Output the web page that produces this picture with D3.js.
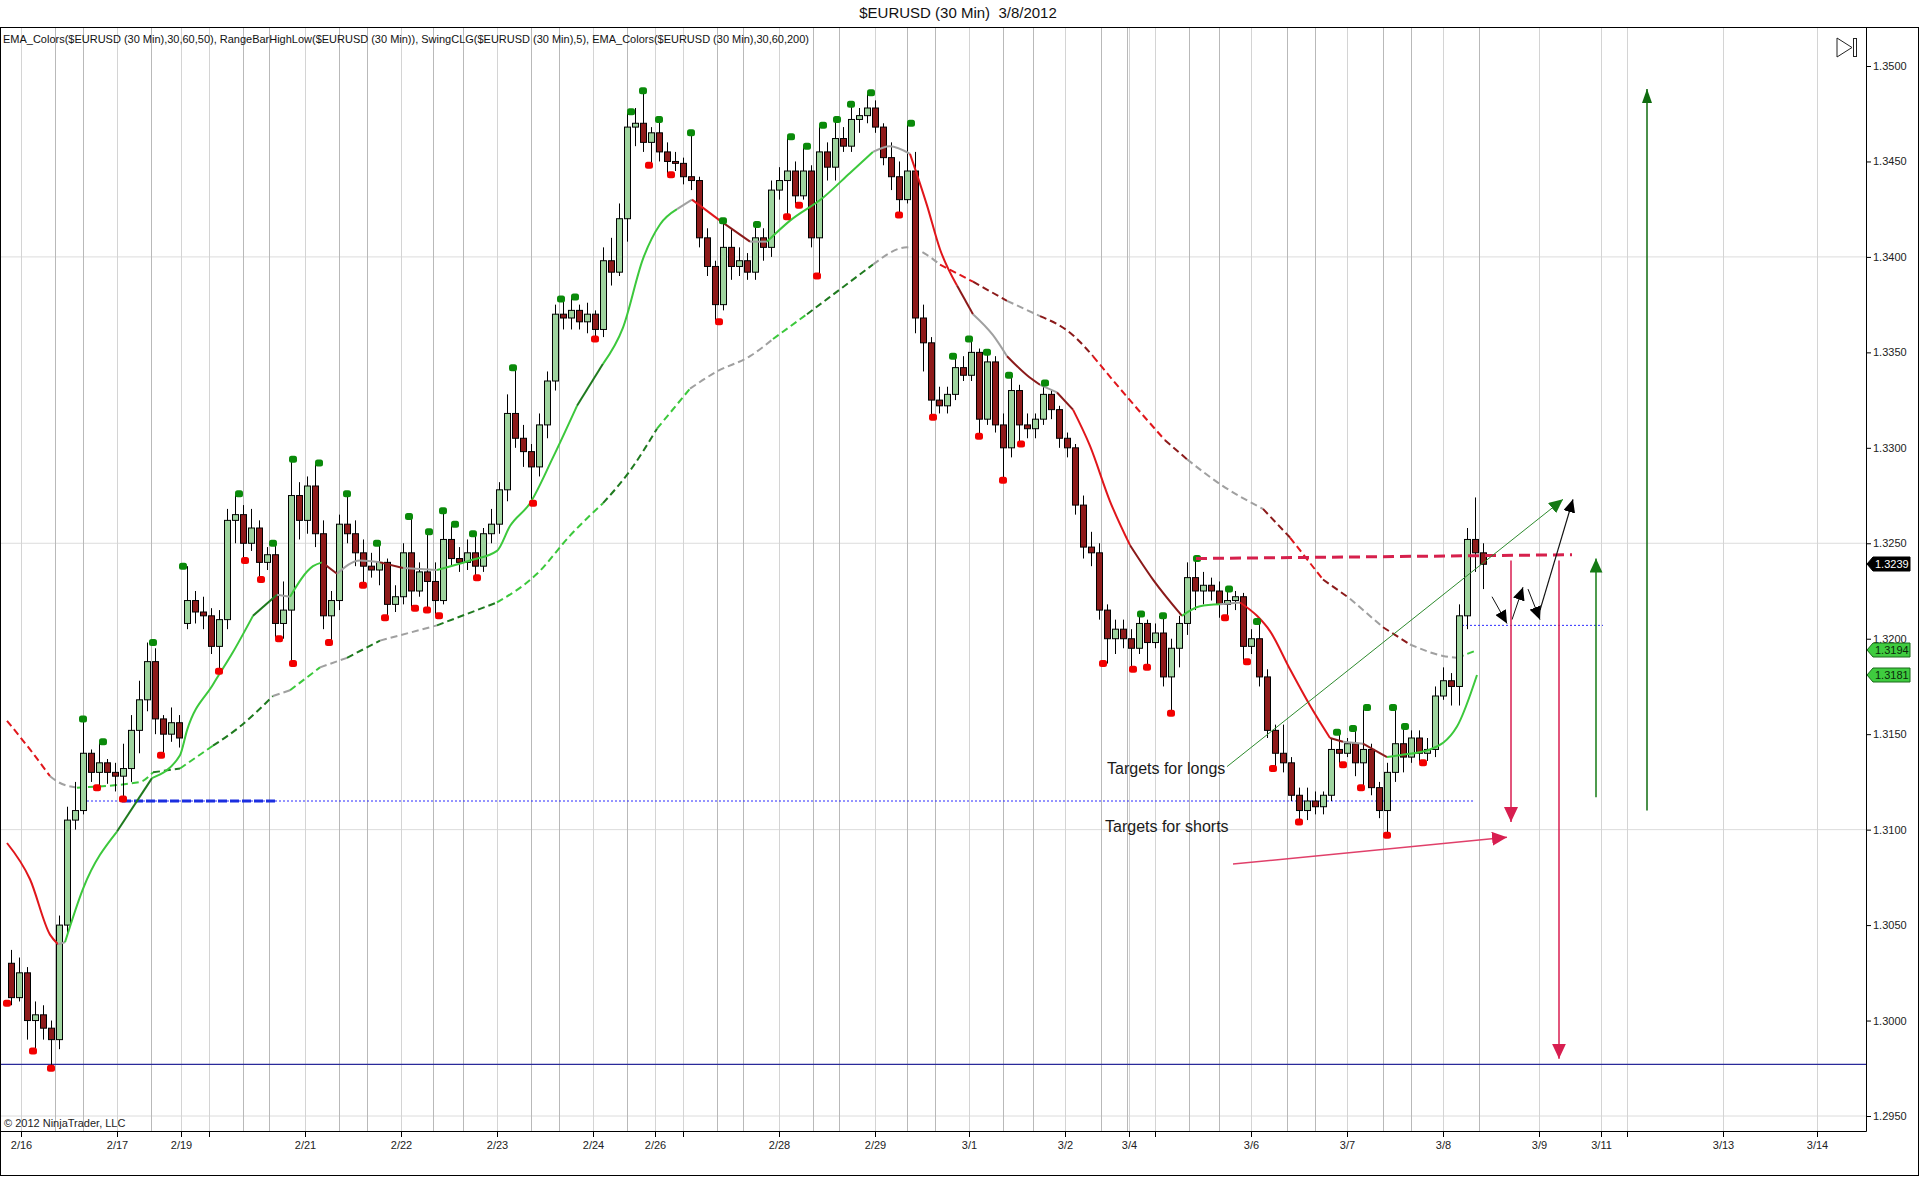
<!DOCTYPE html>
<html lang="en">
<head>
<meta charset="UTF-8">
<title>$EURUSD (30 Min) 3/8/2012</title>
<style>
  body { margin: 0; background: #fff; }
  svg { display: block; font-family: "Liberation Sans", Arial, sans-serif; }
</style>
</head>
<body>
<div class="container"></div>

<script src="https://d3js.org/d3.v7.min.js"></script>
<script>
  // ---- data (bar index = one 30 min bar, candles grouped by 4 bars) ----
  const candleOpen = [
    1.3030,1.3012,1.3025,1.3000,1.3003,1.2996,1.2990,1.3050,1.3105,1.3110,
    1.3140,1.3130,1.3135,1.3130,1.3128,1.3132,1.3152,1.3168,1.3188,1.3158,
    1.3150,1.3156,1.3208,1.3220,1.3214,1.3212,1.3196,1.3210,1.3262,1.3265,
    1.3250,1.3258,1.3240,1.3244,1.3208,1.3215,1.3275,1.3262,1.3280,1.3255,
    1.3212,1.3220,1.3260,1.3255,1.3245,1.3238,1.3236,1.3240,1.3218,1.3222,
    1.3245,1.3225,1.3235,1.3230,1.3220,1.3252,1.3242,1.3240,1.3245,1.3238,
    1.3255,1.3260,1.3278,1.3318,1.3305,1.3298,1.3290,1.3312,1.3335,1.3370,
    1.3368,1.3372,1.3366,1.3370,1.3362,1.3398,1.3392,1.3420,1.3468,1.3470,
    1.3460,1.3465,1.3455,1.3450,1.3449,1.3442,1.3440,1.3410,1.3395,1.3375,
    1.3405,1.3395,1.3398,1.3392,1.3410,1.3405,1.3435,1.3440,1.3445,1.3432,
    1.3445,1.3410,1.3455,1.3447,1.3462,1.3458,1.3472,1.3474,1.3478,1.3468,
    1.3452,1.3442,1.3430,1.3445,1.3368,1.3355,1.3325,1.3322,1.3328,1.3342,
    1.3338,1.3350,1.3315,1.3345,1.3312,1.3300,1.3330,1.3312,1.3310,1.3315,
    1.3328,1.3320,1.3305,1.3300,1.3270,1.3248,1.3245,1.3215,1.3200,1.3205,
    1.3200,1.3195,1.3208,1.3198,1.3203,1.3180,1.3195,1.3208,1.3232,1.3225,
    1.3228,1.3225,1.3218,1.3220,1.3222,1.3196,1.3200,1.3180,1.3152,1.3140,
    1.3135,1.3118,1.3110,1.3115,1.3112,1.3118,1.3142,1.3140,1.3145,1.3135,
    1.3142,1.3122,1.3110,1.3130,1.3145,1.3138,1.3148,1.3140,1.3142,1.3170,
    1.3178,1.3175,1.3212,1.3252,1.3245
  ];
  const candleHigh = [
    1.3037,1.3033,1.3028,1.3010,1.3008,1.3000,1.3055,1.3112,1.3125,1.3158,
    1.3142,1.3146,1.3137,1.3135,1.3145,1.3160,1.3178,1.3198,1.3195,1.3160,
    1.3164,1.3160,1.3238,1.3225,1.3222,1.3216,1.3215,1.3268,1.3276,1.3270,
    1.3268,1.3262,1.3248,1.3250,1.3230,1.3294,1.3282,1.3285,1.3292,1.3262,
    1.3225,1.3265,1.3276,1.3262,1.3252,1.3245,1.3250,1.3242,1.3228,1.3250,
    1.3264,1.3240,1.3256,1.3240,1.3267,1.3260,1.3248,1.3252,1.3255,1.3258,
    1.3268,1.3282,1.3328,1.3342,1.3312,1.3302,1.3318,1.3340,1.3375,1.3378,
    1.3379,1.3375,1.3376,1.3372,1.3405,1.3410,1.3428,1.3476,1.3478,1.3487,
    1.3468,1.3472,1.3460,1.3455,1.3452,1.3465,1.3442,1.3415,1.3398,1.3419,
    1.3415,1.3405,1.3402,1.3417,1.3415,1.3440,1.3447,1.3463,1.3450,1.3458,
    1.3448,1.3469,1.3460,1.3472,1.3468,1.3480,1.3478,1.3486,1.3482,1.3470,
    1.3460,1.3450,1.3470,1.3455,1.3375,1.3358,1.3332,1.3332,1.3348,1.3348,
    1.3357,1.3352,1.3350,1.3348,1.3318,1.3338,1.3333,1.3318,1.3318,1.3334,
    1.3330,1.3322,1.3308,1.3302,1.3275,1.3256,1.3250,1.3218,1.3210,1.3210,
    1.3205,1.3213,1.3210,1.3208,1.3212,1.3200,1.3212,1.3240,1.3242,1.3235,
    1.3232,1.3230,1.3226,1.3225,1.3224,1.3205,1.3209,1.3184,1.3155,1.3155,
    1.3138,1.3122,1.3122,1.3120,1.3120,1.3148,1.3151,1.3148,1.3153,1.3164,
    1.3145,1.3125,1.3135,1.3164,1.3154,1.3152,1.3152,1.3148,1.3175,1.3185,
    1.3182,1.3218,1.3258,1.3274,1.3250
  ];
  const candleLow = [
    1.3008,1.3010,1.2990,1.2984,1.2990,1.2975,1.2985,1.3045,1.3100,1.3108,
    1.3125,1.3122,1.3124,1.3120,1.3116,1.3125,1.3140,1.3162,1.3150,1.3139,
    1.3146,1.3143,1.3205,1.3208,1.3205,1.3192,1.3183,1.3205,1.3250,1.3241,
    1.3246,1.3231,1.3236,1.3200,1.3200,1.3187,1.3252,1.3255,1.3248,1.3205,
    1.3198,1.3215,1.3250,1.3238,1.3228,1.3232,1.3228,1.3211,1.3214,1.3218,
    1.3216,1.3222,1.3215,1.3212,1.3218,1.3238,1.3235,1.3236,1.3232,1.3235,
    1.3250,1.3255,1.3272,1.3300,1.3290,1.3271,1.3285,1.3305,1.3330,1.3362,
    1.3362,1.3362,1.3360,1.3357,1.3358,1.3385,1.3390,1.3408,1.3458,1.3455,
    1.3448,1.3450,1.3443,1.3445,1.3438,1.3435,1.3405,1.3390,1.3366,1.3372,
    1.3388,1.3390,1.3388,1.3388,1.3398,1.3400,1.3430,1.3421,1.3427,1.3430,
    1.3405,1.3390,1.3440,1.3440,1.3455,1.3455,1.3465,1.3470,1.3465,1.3448,
    1.3435,1.3422,1.3428,1.3360,1.3340,1.3316,1.3318,1.3318,1.3325,1.3335,
    1.3335,1.3306,1.3312,1.3308,1.3283,1.3295,1.3302,1.3305,1.3305,1.3312,
    1.3315,1.3300,1.3295,1.3265,1.3242,1.3238,1.3210,1.3187,1.3192,1.3195,
    1.3184,1.3192,1.3185,1.3195,1.3175,1.3161,1.3185,1.3202,1.3215,1.3218,
    1.3220,1.3211,1.3212,1.3215,1.3188,1.3192,1.3175,1.3148,1.3132,1.3130,
    1.3115,1.3104,1.3105,1.3108,1.3108,1.3115,1.3134,1.3138,1.3128,1.3122,
    1.3118,1.3106,1.3097,1.3125,1.3130,1.3135,1.3135,1.3136,1.3138,1.3168,
    1.3165,1.3165,1.3205,1.3235,1.3226
  ];
  const candleClose = [
    1.3012,1.3025,1.3000,1.3003,1.2996,1.2990,1.3050,1.3105,1.3110,1.3140,
    1.3130,1.3135,1.3130,1.3128,1.3132,1.3152,1.3168,1.3188,1.3158,1.3150,
    1.3156,1.3148,1.3220,1.3214,1.3212,1.3196,1.3210,1.3262,1.3265,1.3250,
    1.3258,1.3240,1.3244,1.3208,1.3215,1.3275,1.3262,1.3280,1.3255,1.3212,
    1.3220,1.3260,1.3255,1.3245,1.3238,1.3236,1.3240,1.3218,1.3222,1.3245,
    1.3225,1.3235,1.3230,1.3220,1.3252,1.3242,1.3240,1.3245,1.3238,1.3255,
    1.3260,1.3278,1.3318,1.3305,1.3298,1.3290,1.3312,1.3335,1.3370,1.3368,
    1.3372,1.3366,1.3370,1.3362,1.3398,1.3392,1.3420,1.3468,1.3470,1.3460,
    1.3465,1.3455,1.3450,1.3449,1.3442,1.3440,1.3410,1.3395,1.3375,1.3405,
    1.3395,1.3398,1.3392,1.3410,1.3405,1.3435,1.3440,1.3445,1.3432,1.3445,
    1.3410,1.3455,1.3447,1.3462,1.3458,1.3472,1.3474,1.3478,1.3468,1.3452,
    1.3442,1.3430,1.3445,1.3368,1.3355,1.3325,1.3322,1.3328,1.3342,1.3338,
    1.3350,1.3315,1.3345,1.3312,1.3300,1.3330,1.3312,1.3310,1.3315,1.3328,
    1.3320,1.3305,1.3300,1.3270,1.3248,1.3245,1.3215,1.3200,1.3205,1.3200,
    1.3195,1.3208,1.3198,1.3203,1.3180,1.3195,1.3208,1.3232,1.3225,1.3228,
    1.3225,1.3218,1.3220,1.3222,1.3196,1.3200,1.3180,1.3152,1.3140,1.3135,
    1.3118,1.3110,1.3115,1.3112,1.3118,1.3142,1.3140,1.3145,1.3135,1.3142,
    1.3122,1.3110,1.3130,1.3145,1.3138,1.3148,1.3140,1.3142,1.3170,1.3178,
    1.3175,1.3212,1.3252,1.3245,1.3239
  ];
  const BARS_PER_CANDLE = 4;

  // SwingCLG markers
  const swingHighBar = [38,48,73,88,116,133,143,156,170,185,201,211,218,224,233,253,277,284,312,318,
    326,342,358,375,392,400,408,415,422,432,452,473,481,490,501,519,567,578,595,611,625,665,673,680,693,699];
  const swingHighPrice = [1.3158,1.3146,1.3198,1.3238,1.3276,1.3250,1.3294,1.3292,1.3276,1.3250,
    1.3264,1.3256,1.3267,1.3260,1.3255,1.3342,1.3378,1.3379,1.3476,1.3487,1.3472,1.3465,1.3419,1.3417,
    1.3463,1.3458,1.3469,1.3472,1.3480,1.3486,1.3470,1.3348,1.3357,1.3350,1.3338,1.3334,1.3213,1.3212,
    1.3242,1.3226,1.3209,1.3151,1.3153,1.3164,1.3164,1.3154];
  const swingLowBar = [0,13,22,45,58,77,106,119,127,136,143,161,178,189,204,210,216,235,263,294,
    321,332,356,390,396,405,446,463,486,498,507,548,563,570,582,609,620,633,646,668,677,690,708];
  const swingLowPrice = [1.3009,1.2984,1.2975,1.3122,1.3116,1.3139,1.3183,1.3241,1.3231,1.3200,
    1.3187,1.3198,1.3228,1.3211,1.3216,1.3215,1.3212,1.3232,1.3271,1.3357,1.3448,1.3443,1.3366,1.3421,
    1.3427,1.3390,1.3422,1.3316,1.3306,1.3283,1.3302,1.3187,1.3184,1.3185,1.3161,1.3211,1.3188,1.3132,
    1.3104,1.3134,1.3122,1.3097,1.3135];

  // EMA_Colors(50) and EMA_Colors(200); state: U up, u slow up, F flat, d slow down, D down
  const ema50Bar = [0,11.5,21.5,25.5,29,38,55,72.5,86.5,90,103,113,123,135,141.5,153,157.5,165,176.5,186.5,
    198,215,231.5,245,251.5,261.5,273,285,298,308,318,326.5,335,342.5,356.5,371.5,380,391.5,408,421.5,
    433,441.5,451.5,460,466.5,475,483,493,500,510,516.5,525,533,541.5,551.5,561.5,573,587.5,596.5,606.5,
    616.5,625,631.5,641.5,651.5,661.5,668,678,690,696.5,711.5,725,735];
  const ema50Value = [1.3093,1.3074,1.3045,1.3040,1.3041,1.3069,1.3099,1.3127,1.3139,1.3152,
    1.3176,1.3193,1.3212,1.3223,1.3222,1.3238,1.3240,1.3234,1.3241,1.3240,1.3237,1.3236,1.3241,1.3246,
    1.3259,1.3271,1.3295,1.3322,1.3344,1.3363,1.3399,1.3417,1.3425,1.3430,1.3419,1.3408,1.3408,1.3419,
    1.3431,1.3444,1.3455,1.3458,1.3454,1.3427,1.3404,1.3385,1.3370,1.3359,1.3348,1.3338,1.3333,1.3329,
    1.3320,1.3301,1.3272,1.3249,1.3231,1.3212,1.3217,1.3218,1.3219,1.3212,1.3204,1.3184,1.3165,1.3148,
    1.3146,1.3145,1.3138,1.3139,1.3142,1.3154,1.3181];
  const ema50State = ['D','D','D','F','U','U','u','U','U','U','U','U','u','F','U','U','d','F','F','d',
    'F','U','U','U','U','U','U','u','U','U','U','U','F','D','d','F','U','U','U','U',
    'F','F','D','D','D','d','F','F','d','d','F','d','D','D','D','d','d','U','U','F',
    'D','D','D','D','D','d','F','d','U','U','U','U'];

  const ema200Bar = [0,11.5,21.5,25.5,35,66.5,73,86.5,103,116.5,133,141.5,156.5,170,186.5,215,245,265,281.5,298,
    311.5,325,341.5,355,371.5,383,400,416.5,433,450,466.5,483,500,516.5,533,543,556.5,579,590,606.5,
    628,641.5,658,671.5,688,701.5,718,725,735];
  const ema200Value = [1.3157,1.3142,1.3128,1.3125,1.3122,1.3125,1.3130,1.3132,1.3144,1.3154,
    1.3170,1.3173,1.3185,1.3190,1.3199,1.3207,1.3219,1.3234,1.3254,1.3271,1.3288,1.3310,1.3331,1.3340,
    1.3348,1.3357,1.3370,1.3383,1.3396,1.3405,1.3396,1.3387,1.3377,1.3369,1.3359,1.3348,1.3331,1.3304,
    1.3294,1.3281,1.3268,1.3253,1.3231,1.3221,1.3206,1.3197,1.3191,1.3190,1.3194];
  const ema200State = ['D','D','F','F','U','U','u','U','u','u','F','U','F','u','F','u','U','U','U','u',
    'u','U','F','F','F','U','u','u','F','F','D','d','F','d','d','D','D','d','F','F',
    'd','D','d','F','d','F','F','U'];

  // time axis
  const tickBars = [7,55,87,101,149,197,245,293,324,338,386,434,481,529,561,574,622,670,718,766,797,810,858,905];
  const tickLabels = ['2/16','2/17','2/19','','2/21','2/22','2/23','2/24','2/26','','2/28','2/29',
    '3/1','3/2','3/4','','3/6','3/7','3/8','3/9','3/11','','3/13','3/14'];
  const sessionBars = [24,38,72,118,131,166,180,213,228,262,276,310,355,368,403,416,450,464,498,513,
    547,560,591,606,640,654,688,702,736];

  // price axis
  const priceTicks = [1.2950,1.3000,1.3050,1.3100,1.3150,1.3200,1.3250,1.3300,1.3350,1.3400,1.3450,1.3500];
  const priceGrid = [1.2950,1.3100,1.3250,1.3400];
  const lastPrice = 1.3239;
  const emaTags = [1.3194, 1.3181];

  // ---- layout ----
  const SVG_WIDTH = 1920;
  const SVG_HEIGHT = 1177;
  const PLOT_LEFT = 1, PLOT_TOP = 28, PLOT_RIGHT = 1866, PLOT_BOTTOM = 1131;

  const COLORS = { U: '#3cc83c', u: '#1f7a1f', F: '#a0a0a0', d: '#8b1a1a', D: '#e0161b' };

  const x = d3.scaleLinear().domain([0, 930]).range([7, 1867]);
  const y = d3.scaleLinear().domain([1.295, 1.35]).range([1116, 66]);

  const svg = d3.select('.container')
    .append('svg')
    .attr('width', SVG_WIDTH)
    .attr('height', SVG_HEIGHT);

  svg.append('rect').attr('width', SVG_WIDTH).attr('height', SVG_HEIGHT).attr('fill', '#fff');

  const defs = svg.append('defs');
  defs.append('clipPath').attr('id', 'plot-clip')
    .append('rect')
    .attr('x', PLOT_LEFT).attr('y', PLOT_TOP)
    .attr('width', PLOT_RIGHT - PLOT_LEFT).attr('height', PLOT_BOTTOM - PLOT_TOP);

  function arrowHead(id, color, len, wid) {
    defs.append('marker')
      .attr('id', id)
      .attr('viewBox', `0 0 ${len} ${wid}`)
      .attr('refX', len).attr('refY', wid / 2)
      .attr('markerWidth', len).attr('markerHeight', wid)
      .attr('markerUnits', 'userSpaceOnUse')
      .attr('orient', 'auto')
      .append('path')
      .attr('d', `M0,0L${len},${wid / 2}L0,${wid}Z`)
      .attr('fill', color);
  }
  arrowHead('head-crimson', '#d81e50', 15, 14);
  arrowHead('head-green', '#157a15', 14, 13);
  arrowHead('head-darkgreen', '#0f6b0f', 14, 10);
  arrowHead('head-black', '#000', 13, 12);

  // title + indicator list
  svg.append('text')
    .attr('x', 958).attr('y', 18)
    .attr('text-anchor', 'middle')
    .style('white-space', 'pre')
    .attr('font-size', 15)
    .attr('fill', '#111')
    .text('$EURUSD (30 Min)  3/8/2012');

  svg.append('rect')
    .attr('x', 0.5).attr('y', 27.5)
    .attr('width', 1918).attr('height', 1148)
    .attr('fill', 'none').attr('stroke', '#000');

  const plot = svg.append('g').attr('clip-path', 'url(#plot-clip)');

  // grid
  plot.selectAll('.hgrid').data(priceGrid).enter().append('line')
    .attr('x1', PLOT_LEFT).attr('x2', PLOT_RIGHT)
    .attr('y1', d => y(d)).attr('y2', d => y(d))
    .attr('stroke', '#dcdcdc');
  plot.selectAll('.vgrid').data(tickBars).enter().append('line')
    .attr('x1', d => x(d) + 0.5).attr('x2', d => x(d) + 0.5)
    .attr('y1', PLOT_TOP).attr('y2', PLOT_BOTTOM)
    .attr('stroke', '#d4d4d4');
  plot.selectAll('.session').data(sessionBars).enter().append('line')
    .attr('x1', d => x(d) + 0.5).attr('x2', d => x(d) + 0.5)
    .attr('y1', PLOT_TOP).attr('y2', PLOT_BOTTOM)
    .attr('stroke', '#b9b9b9');

  svg.append('text')
    .attr('x', 3).attr('y', 43)
    .attr('font-size', 11)
    .attr('textLength', 806).attr('lengthAdjust', 'spacingAndGlyphs')
    .attr('fill', '#111')
    .text('EMA_Colors($EURUSD (30 Min),30,60,50), RangeBarHighLow($EURUSD (30 Min)), SwingCLG($EURUSD (30 Min),5), EMA_Colors($EURUSD (30 Min),30,60,200)');

  // horizontal levels
  plot.append('line')
    .attr('x1', PLOT_LEFT).attr('x2', PLOT_RIGHT)
    .attr('y1', y(1.2977)).attr('y2', y(1.2977))
    .attr('stroke', '#2a2a9a').attr('stroke-width', 1.2);
  plot.append('line')
    .attr('x1', x(38)).attr('x2', x(734))
    .attr('y1', y(1.3115)).attr('y2', y(1.3115))
    .attr('stroke', '#2b2bff').attr('stroke-dasharray', '2,2');
  plot.append('line')
    .attr('x1', x(57.5)).attr('x2', x(134.5))
    .attr('y1', y(1.3115)).attr('y2', y(1.3115))
    .attr('stroke', '#1a2ee0').attr('stroke-width', 3).attr('stroke-dasharray', '9,3');
  plot.append('line')
    .attr('x1', x(725.5)).attr('x2', x(798))
    .attr('y1', y(1.3207)).attr('y2', y(1.3207))
    .attr('stroke', '#2b2bff').attr('stroke-dasharray', '2,2');

  // EMA lines, coloured by state
  function drawEma(bars, values, states, dashed) {
    const pts = bars.map((b, i) => ({ b, v: values[i] }));
    const line = d3.line().x(d => x(d.b)).y(d => y(d.v)).curve(d3.curveMonotoneX);
    let start = 0;
    for (let i = 1; i <= states.length; i++) {
      if (i === states.length || states[i] !== states[start]) {
        plot.append('path')
          .attr('d', line(pts.slice(start, i + 1)))
          .attr('fill', 'none')
          .attr('stroke', COLORS[states[start]])
          .attr('stroke-width', 2)
          .attr('stroke-dasharray', dashed ? '7,4' : null);
        start = i;
      }
    }
  }
  drawEma(ema200Bar, ema200Value, ema200State, true);

  // candles
  const candles = candleClose.map((c, i) => ({
    bar: i * BARS_PER_CANDLE + BARS_PER_CANDLE / 2,
    o: candleOpen[i], h: candleHigh[i], l: candleLow[i], c
  }));
  const candleG = plot.append('g');
  candleG.selectAll('.wick').data(candles).enter().append('line')
    .attr('x1', d => Math.round(x(d.bar)) + 0.5).attr('x2', d => Math.round(x(d.bar)) + 0.5)
    .attr('y1', d => y(d.h)).attr('y2', d => y(d.l))
    .attr('stroke', '#000');
  candleG.selectAll('.body').data(candles).enter().append('rect')
    .attr('x', d => Math.round(x(d.bar)) - 2.5)
    .attr('y', d => y(Math.max(d.o, d.c)))
    .attr('width', 6)
    .attr('height', d => Math.max(1, Math.abs(y(d.o) - y(d.c))))
    .attr('fill', d => d.c >= d.o ? '#9fd49f' : '#8e1a1a')
    .attr('stroke', '#000').attr('stroke-width', 1);

  drawEma(ema50Bar, ema50Value, ema50State, false);

  // swing markers
  plot.selectAll('.swingHigh').data(swingHighBar).enter().append('rect')
    .attr('x', d => x(d) - 4).attr('y', (d, i) => y(swingHighPrice[i]) - 3.5)
    .attr('width', 8).attr('height', 7).attr('rx', 2.5)
    .attr('fill', '#0a8a0a');
  plot.selectAll('.swingLow').data(swingLowBar).enter().append('rect')
    .attr('x', d => x(d) - 4).attr('y', (d, i) => y(swingLowPrice[i]) - 3.5)
    .attr('width', 8).attr('height', 7).attr('rx', 2.5)
    .attr('fill', '#f20000');

  // drawn objects
  function segment(a, b, color, width, head, dash) {
    plot.append('line')
      .attr('x1', x(a[0])).attr('y1', y(a[1]))
      .attr('x2', x(b[0])).attr('y2', y(b[1]))
      .attr('stroke', color).attr('stroke-width', width)
      .attr('stroke-dasharray', dash || null)
      .attr('marker-end', head ? `url(#${head})` : null);
  }
  segment([594.5, 1.3242], [782.5, 1.3244], '#d6204c', 3, null, '11,6');
  segment([610, 1.3133], [778, 1.3273], '#2e8b2e', 1, 'head-green');
  segment([766.5, 1.3215], [783, 1.3273], '#111', 1.2, 'head-black');
  segment([742.5, 1.3222], [750, 1.3208], '#111', 1, 'head-black');
  segment([752.5, 1.3210], [758, 1.3227], '#111', 1, 'head-black');
  segment([760.5, 1.3226], [766.5, 1.3210], '#111', 1, 'head-black');
  segment([752, 1.3241], [752, 1.3104], '#d81e50', 1.5, 'head-crimson');
  segment([776, 1.3241], [776, 1.2980], '#d81e50', 1.5, 'head-crimson');
  segment([794.5, 1.3117], [794.5, 1.3242], '#157a15', 1.5, 'head-green');
  segment([613, 1.3082], [750, 1.3096], '#e0406a', 1.5, 'head-crimson');
  segment([820, 1.3110], [820, 1.3488], '#0f6b0f', 1.5, 'head-darkgreen');

  plot.append('text')
    .attr('x', x(550)).attr('y', y(1.3129))
    .attr('font-size', 16).attr('fill', '#1a1a1a')
    .text('Targets for longs');
  plot.append('text')
    .attr('x', x(549)).attr('y', y(1.3099))
    .attr('font-size', 16).attr('fill', '#1a1a1a')
    .text('Targets for shorts');

  // "scroll to end" icon
  svg.append('path')
    .attr('d', 'M1837,38L1852,47.5L1837,57Z')
    .attr('fill', 'none').attr('stroke', '#222');
  svg.append('rect')
    .attr('x', 1853.5).attr('y', 38.5).attr('width', 3).attr('height', 18)
    .attr('fill', 'none').attr('stroke', '#222');

  // axes
  const yAxis = d3.axisRight(y).tickValues(priceTicks).tickFormat(d3.format('.4f')).tickSize(5).tickPadding(2);
  const yAxisGroup = svg.append('g').attr('transform', `translate(${PLOT_RIGHT}, 0)`).call(yAxis);
  yAxisGroup.select('.domain').remove();
  yAxisGroup.selectAll('text').attr('font-size', 11).attr('fill', '#222').attr('font-family', '"Liberation Sans", Arial, sans-serif');

  const xAxis = d3.axisBottom(x).tickValues(tickBars).tickFormat((d, i) => tickLabels[i]).tickSize(6).tickPadding(4);
  const xAxisGroup = svg.append('g').attr('transform', `translate(0, ${PLOT_BOTTOM})`).call(xAxis);
  xAxisGroup.select('.domain').remove();
  xAxisGroup.selectAll('text').attr('font-size', 11).attr('fill', '#222').attr('font-family', '"Liberation Sans", Arial, sans-serif');

  svg.append('line')
    .attr('x1', PLOT_RIGHT + 0.5).attr('x2', PLOT_RIGHT + 0.5)
    .attr('y1', 27).attr('y2', PLOT_BOTTOM + 0.5)
    .attr('stroke', '#000');
  svg.append('line')
    .attr('x1', 0).attr('x2', PLOT_RIGHT + 0.5)
    .attr('y1', PLOT_BOTTOM + 0.5).attr('y2', PLOT_BOTTOM + 0.5)
    .attr('stroke', '#000');

  svg.append('text')
    .attr('x', 4).attr('y', 1127)
    .attr('font-size', 11).attr('fill', '#222')
    .text('\u00a9 2012 NinjaTrader, LLC');

  // price tags on the axis
  function priceTag(p, fill, stroke, textColor) {
    const yc = Math.round(y(p));
    svg.append('path')
      .attr('d', `M${PLOT_RIGHT + 1},${yc}L${PLOT_RIGHT + 7},${yc - 7}L${PLOT_RIGHT + 44},${yc - 7}L${PLOT_RIGHT + 44},${yc + 7}L${PLOT_RIGHT + 7},${yc + 7}Z`)
      .attr('fill', fill).attr('stroke', stroke);
    svg.append('text')
      .attr('x', PLOT_RIGHT + 9).attr('y', yc + 4)
      .attr('font-size', 11).attr('fill', textColor)
      .text(d3.format('.4f')(p));
  }
  emaTags.forEach(p => priceTag(p, '#3fcc3f', '#1a6a1a', '#0a2a0a'));
  priceTag(lastPrice, '#000', '#000', '#fff');
</script>
</body>
</html>
